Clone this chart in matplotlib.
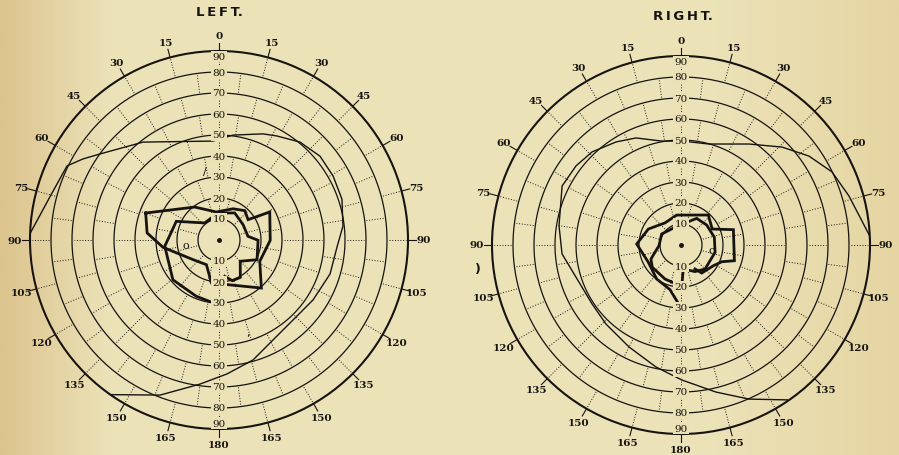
import numpy as np
import matplotlib
matplotlib.use("Agg")
import matplotlib.pyplot as plt

# meridians (deg, clockwise from top) and eccentricity (deg)
left_field_angle = [-88.0, -75.4, -64.0, -59.2, -54.1, -37.8, -3.5, 7.6, 22.5, 29.1, 39.6, 50.3,
                    60.7, 71.6, 83.6, 93.4, 107.0, 122.5, 137.2, 151.6, 164.2, 176.6, 187.5, 200.8, 215.1]
left_field_ecc = [90.0, 83.0, 80.5, 75.4, 69.9, 59.0, 47.2, 50.4, 54.7, 56.7, 60.5, 62.5,
                  62.3, 61.7, 59.4, 56.3, 55.3, 53.1, 51.9, 54.1, 59.4, 63.9, 69.2, 79.0, 90.0]

left_a_angle = [-69.8, -36.4, -5.5, 24.1, 41.3, 55.0, 61.1, 90.3, 117.6, 138.6, 190.0, 207.0,
                232.9, 262.6, 275.6, 290.2]
left_a_ecc = [37.2, 19.5, 13.4, 16.3, 18.6, 16.9, 27.6, 24.4, 21.9, 30.5, 20.8, 13.2,
              15.5, 26.9, 34.4, 37.2]

left_b_angle = [-179.1, -158.0, -130.8, -96.6, -66.4, -40.0, -2.1, 30.2, 57.5, 82.7, 90.4,
                117.4, 135.0, 150.3, 161.9, 171.1]
left_b_ecc = [30.8, 28.9, 29.0, 26.0, 22.2, 10.6, 12.9, 14.9, 13.6, 13.9, 18.6,
              20.4, 14.3, 20.5, 20.4, 17.5]

right_field_angle = [87.3, 73.7, 64.2, 55.2, 45.9, 34.0, 15.5, 0.6, -10.4, -22.8, -32.2, -43.7,
                     -53.0, -63.6, -81.1, -94.3, -107.0, -123.5, -136.5, -153.0, -168.4, -180.4,
                     -193.4, -203.8, -214.5]
right_field_ecc = [90.0, 83.3, 79.9, 74.2, 67.0, 58.0, 49.9, 49.5, 50.3, 55.3, 58.0, 61.3,
                   62.6, 63.2, 58.8, 56.8, 52.3, 50.8, 51.9, 54.5, 59.3, 64.3,
                   72.0, 80.2, 89.5]

right_c_angle = [-179.1, -166.2, -144.4, -117.9, -88.7, -63.9, -36.0, -8.2, 42.3, 62.9, 73.7,
                 106.4, 112.3, 122.7, 143.5, 149.7]
right_c_ecc = [29.2, 21.9, 19.9, 17.6, 21.1, 17.3, 13.0, 14.4, 19.3, 16.7, 26.0,
               26.5, 21.0, 18.3, 16.6, 13.2]

right_d_angle = [-185.5, -181.0, -154.8, -127.8, -115.0, -91.8, -60.3, -8.0, 30.5, 52.1, 77.0,
                 102.1, 135.0, 152.3, 174.5]
right_d_ecc = [11.5, 19.7, 17.9, 17.3, 15.8, 10.5, 10.6, 9.3, 14.7, 15.5, 16.3,
               16.6, 16.2, 14.3, 11.5]

blind_spot = {"left": (260.8, 15.8, "o"), "right": (98.7, 14.8, "c")}

ring_values = [10, 20, 30, 40, 50, 60, 70, 80, 90]
meridian_labels = list(range(0, 360, 15))

INK = "#161310"
PAPER = "#ebe0b4"
SERIF = "DejaVu Serif"

fig = plt.figure(figsize=(8.99, 4.56), dpi=100)

# paper background, darker towards the left edge
bg = fig.add_axes([0, 0, 1, 1])
xs = np.linspace(0, 1, 300)
left_col = np.array([220, 196, 142]) / 255
mid_col = np.array([236, 226, 184]) / 255
right_col = np.array([229, 213, 162]) / 255
w = np.clip(xs / 0.12, 0, 1)[:, None]
row = left_col * (1 - w) + mid_col * w
w2 = np.clip((xs - 0.8) / 0.2, 0, 1)[:, None]
row = row * (1 - w2) + right_col * w2
bg.imshow(np.tile(row[None, :, :], (10, 1, 1)), aspect="auto", extent=[0, 1, 0, 1])
bg.axis("off")


def draw_chart(rect, field, thick_lines, spot):
    ax = fig.add_axes(rect, projection="polar")
    ax.set_theta_zero_location("N")
    ax.set_theta_direction(-1)
    ax.set_ylim(0, 90)
    ax.set_facecolor("none")
    ax.set_xticks([])
    ax.set_yticks([])
    ax.grid(False)
    ax.spines["polar"].set_linewidth(1.5)
    ax.spines["polar"].set_color(INK)

    full = np.linspace(0, 2 * np.pi, 361)
    for r in ring_values[:-1]:
        ax.plot(full, np.full_like(full, r), color=INK, lw=0.9)

    # dotted radial segments, staggered from one ring to the next
    steps = {1: 30, 2: 20, 3: 20, 4: 18, 5: 18, 6: 15, 7: 15, 8: 15}
    for k, step in steps.items():
        off = 0 if (8 - k) % 2 == 0 else step / 2
        angs = set(np.round(np.arange(off, 360, step), 2)) | {0.0, 180.0}
        for a in angs:
            t = np.deg2rad(a)
            ax.plot([t, t], [10 * k + 0.8, 10 * k + 9.2], color=INK, lw=0.7,
                    ls=(0, (1, 1.8)))

    # meridian numbers outside the chart
    for a in meridian_labels:
        t = np.deg2rad(a)
        val = a if a <= 180 else 360 - a
        ax.plot([t, t], [90, 94], color=INK, lw=0.8, clip_on=False)
        ax.text(t, 97.5, str(val), ha="center", va="center", fontsize=7.5,
                family=SERIF, fontweight="bold", color=INK, clip_on=False)

    # ring numbers along the vertical meridian
    for r in ring_values:
        rr = 87.5 if r == 90 else r
        for t in (0, np.pi):
            ax.text(t, rr, str(r), ha="center", va="center", fontsize=7.5,
                    family=SERIF, color=INK,
                    bbox=dict(boxstyle="square,pad=0.1", fc=PAPER, ec="none"))

    ax.plot(np.deg2rad(field[0]), field[1], color=INK, lw=1.0)
    for ang, ecc in thick_lines:
        ax.plot(np.deg2rad(ang), ecc, color=INK, lw=2.0, solid_joinstyle="miter")

    ax.plot([0], [0], marker="o", ms=2.5, color=INK)
    ax.text(np.deg2rad(spot[0]), spot[1], spot[2], ha="center", va="center",
            fontsize=8, family=SERIF, color=INK)
    return ax


draw_chart([30 / 899, 26 / 456, 378 / 899, 378 / 456],
           (left_field_angle, left_field_ecc),
           [(left_a_angle, left_a_ecc), (left_b_angle, left_b_ecc)],
           blind_spot["left"])
draw_chart([492 / 899, 21 / 456, 378 / 899, 378 / 456],
           (right_field_angle, right_field_ecc),
           [(right_c_angle, right_c_ecc), (right_d_angle, right_d_ecc)],
           blind_spot["right"])

fig.text(219 / 899, 1 - 13 / 456, "L\u2009E\u2009F\u2009T.", ha="center", va="center",
         fontsize=9.5, fontweight="bold", color=INK)
fig.text(683 / 899, 1 - 16 / 456, "R\u2009I\u2009G\u2009H\u2009T.", ha="center", va="center",
         fontsize=9.5, fontweight="bold", color=INK)
fig.text(478 / 899, 1 - 270 / 456, ")", ha="center", va="center", fontsize=9,
         fontweight="bold", color=INK)
fig.text(205 / 899, 1 - 172 / 456, "/", ha="center", va="center", fontsize=8, color=INK)
fig.text(248 / 899, 1 - 333 / 456, ",", ha="center", va="center", fontsize=8, color=INK)

fig.savefig("out.png", dpi=100, facecolor=PAPER)
